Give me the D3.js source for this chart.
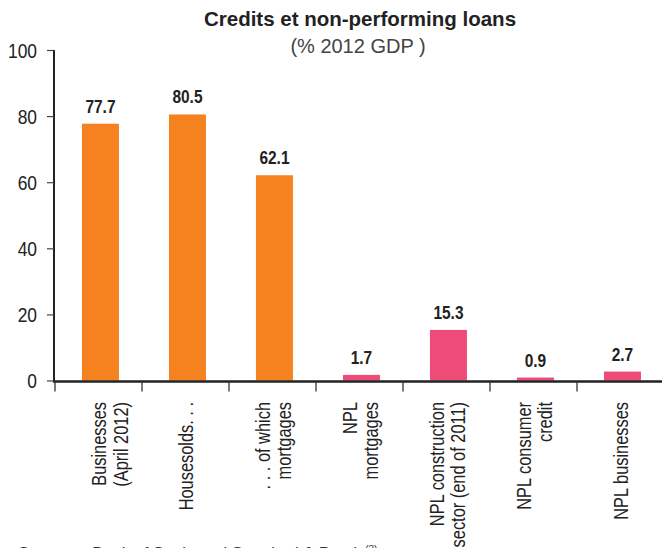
<!DOCTYPE html>
<html><head><meta charset="utf-8">
<script src="https://cdn.jsdelivr.net/npm/d3@7"></script>
<style>
html,body{margin:0;padding:0;background:#fff;}
svg{display:block;}
text{font-family:"Liberation Sans",Arial,sans-serif;}
</style></head>
<body><svg id="c" width="662" height="548"></svg>
<script>
const categories = [
  ["", "Businesses", "(April 2012)"],
  ["Housesolds. . ."],
  [". . . of which", "mortgages"],
  ["NPL", "mortgages"],
  ["NPL construction", "sector (end of 2011)"],
  ["NPL consumer", "credit"],
  ["NPL businesses"]
];
const values = [77.7, 80.5, 62.1, 1.7, 15.3, 0.9, 2.7];
const valueLabels = ["77.7", "80.5", "62.1", "1.7", "15.3", "0.9", "2.7"];
const groups = ["credit", "credit", "credit", "npl", "npl", "npl", "npl"];
const yTicks = [0, 20, 40, 60, 80, 100];
const title = "Credits et non-performing loans";
const subtitle = "(% 2012 GDP )";
const source = "Sources : Bank of Spain and Standard & Poor's";

const colors = {credit: "#F5821F", npl: "#EF4B78"};
const svg = d3.select("#c");
const ids = categories.map((c, i) => "c" + i);
const narrow = 0.82;

const x = d3.scaleBand().domain(ids).range([55, 664]).padding(0);
const y = d3.scaleLinear().domain([0, 100]).range([380.5, 50]);

// bars
svg.selectAll("rect.bar").data(values).join("rect")
  .attr("class", "bar")
  .attr("x", (d, i) => x(ids[i]) + x.bandwidth() * 0.31)
  .attr("width", x.bandwidth() * 0.425)
  .attr("y", d => y(d))
  .attr("height", d => y(0) - y(d))
  .attr("fill", (d, i) => colors[groups[i]]);

// value labels
svg.selectAll("text.val").data(values).join("text")
  .attr("class", "val")
  .attr("transform", (d, i) => `translate(${x(ids[i]) + x.bandwidth() * 0.5225},${y(d) - 11}) scale(0.86,1)`)
  .attr("text-anchor", "middle")
  .attr("font-weight", "bold")
  .attr("font-size", 18)
  .attr("fill", "#222")
  .text((d, i) => valueLabels[i]);

// y axis
const yAxis = d3.axisLeft(y).tickValues(yTicks).tickSize(7).tickPadding(9);
const ya = svg.append("g").attr("transform", "translate(54,0)").call(yAxis);
ya.select(".domain").attr("d", "M0,50V381").attr("stroke", "#222").attr("stroke-width", 2);
ya.selectAll(".tick line").attr("stroke", "#444").attr("stroke-width", 1.2);
ya.selectAll(".tick text")
  .attr("x", null).attr("dy", null)
  .attr("transform", "translate(-17,7) scale(0.87,1)")
  .attr("font-size", 20).attr("fill", "#222")
  .attr("font-family", "'Liberation Sans',Arial,sans-serif");

// x axis
const xa = svg.append("g").attr("transform", "translate(0,381.5)");
xa.append("line").attr("x1", 53).attr("x2", 662).attr("y1", 0).attr("y2", 0)
  .attr("stroke", "#222").attr("stroke-width", 2.6);
xa.selectAll("line.xt").data(ids).join("line").attr("class", "xt")
  .attr("x1", d => x(d)).attr("x2", d => x(d))
  .attr("y1", 0).attr("y2", 10).attr("stroke", "#333").attr("stroke-width", 1.3);

// x labels (rotated, end-anchored at top)
const lh = 21.5;
svg.selectAll("g.xl").data(categories).join("g").attr("class", "xl")
  .each(function(lines, i) {
    const cx = x(ids[i]) + x.bandwidth() * 0.5225;
    const n = lines.length;
    const g = d3.select(this);
    lines.forEach((ln, k) => {
      const bx = cx + 6 + (k - (n - 1) / 2) * lh;
      g.append("text")
        .attr("transform", `translate(${bx},402) rotate(-90) scale(${narrow},1)`)
        .attr("text-anchor", "end")
        .attr("font-size", 20)
        .attr("fill", "#222")
        .text(ln);
    });
  });

// title
svg.append("text").attr("x", 360).attr("y", 26).attr("text-anchor", "middle")
  .attr("font-weight", "bold").attr("font-size", 20.5).attr("fill", "#222").text(title);
svg.append("text").attr("x", 358).attr("y", 53).attr("text-anchor", "middle")
  .attr("font-size", 20).attr("fill", "#444").text(subtitle);

// source
const st = svg.append("text").attr("x", 18).attr("y", 559)
  .attr("font-size", 16.5).attr("fill", "#333").text(source);
st.append("tspan").attr("dy", -6).attr("font-size", 10).text("(3)");
</script></body></html>
